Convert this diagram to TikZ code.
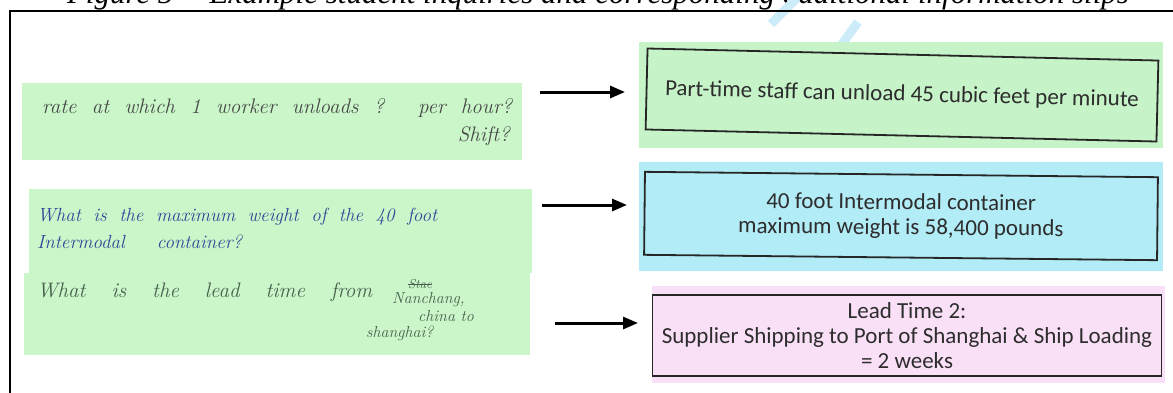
\documentclass[tikz,border=0pt]{standalone}
\usepackage{fontspec}
\newfontfamily\capfont{Liberation Serif}
\newfontfamily\boxfont{Carlito}
\usetikzlibrary{arrows.meta}
\definecolor{slipgreen}{RGB}{202,246,202}
\definecolor{boxgreen}{RGB}{198,243,200}
\definecolor{boxcyan}{RGB}{178,236,247}
\definecolor{boxpink}{RGB}{249,224,246}
\definecolor{inkgrey}{RGB}{70,72,70}
\definecolor{inkblue}{RGB}{45,70,150}
\definecolor{inkgreen}{RGB}{70,95,75}
\definecolor{boxtext}{RGB}{45,45,45}
\definecolor{wmark}{RGB}{205,236,250}
\tikzset{
  slip/.style={fill=slipgreen, draw=none, inner sep=0pt},
  bg/.style={draw=none, inner sep=0pt},
  infobox/.style={draw=black!85, line width=1.8pt, inner sep=0pt, align=center,
    font=\boxfont\fontsize{23}{25}\selectfont, text=boxtext},
  hand/.style={inner sep=0pt, font=\itshape\fontsize{21}{24}\selectfont},
  handsmall/.style={inner sep=0pt, font=\itshape\fontsize{16}{18}\selectfont},
  arr/.style={line width=3pt, -{Triangle[length=15pt,width=12pt]}},
}
\begin{document}
\begin{tikzpicture}[x=1pt,y=-1pt]
\useasboundingbox (0,0) rectangle (1173,392);
% caption (cut at the top)
\node[anchor=base, inner sep=0pt, font=\capfont\itshape\fontsize{31}{36}\selectfont] (cap) at (598,3)
  {Figure 5 -- Example student inquiries and corresponding additional information slips};
% watermark strokes
\draw[wmark, line width=9pt] (797,-2) -- (771,24);
\draw[wmark, line width=9pt] (858,22) -- (842,44);
% frame
\draw[line width=2.6pt] (1200,11) -- (10,11) -- (10,420);
% slips
\node[slip, minimum width=500pt, minimum height=77pt, anchor=north west] (s1) at (22,83) {};
\node[slip, minimum width=503pt, minimum height=84pt, anchor=north west] (s2) at (29,189) {};
\node[slip, minimum width=506pt, minimum height=82pt, anchor=north west] (s3) at (24,273) {};
% handwriting
\node[hand, text=inkgrey, anchor=west] (h1a) at (42,108) {\makebox[470pt][s]{rate at which 1 worker unloads ? per hour?}};
\node[hand, text=inkgrey, anchor=east] (h1b) at (510,136) {Shift?};
\node[hand, text=inkblue, anchor=west, font=\itshape\fontsize{19}{22}\selectfont] (h2a) at (37,217) {\makebox[400pt][s]{What is the maximum weight of the 40 foot}};
\node[hand, text=inkblue, anchor=west, font=\itshape\fontsize{19}{22}\selectfont] (h2b) at (37,242) {\makebox[205pt][s]{Intermodal container?}};
\node[hand, text=inkgreen, anchor=west] (h3a) at (37,292) {\makebox[335pt][s]{What is the lead time from}};
\node[handsmall, text=inkgreen, anchor=west, font=\itshape\fontsize{13}{15}\selectfont] (h3x) at (408,284) {Stae};
\draw[inkgreen, line width=0.8pt] (h3x.west) -- (h3x.east);
\node[handsmall, text=inkgreen, anchor=west] (h3b) at (392,300) {Nanchang,};
\node[handsmall, text=inkgreen, anchor=west] (h3c) at (418,316) {china to};
\node[handsmall, text=inkgreen, anchor=west] (h3d) at (366,333) {shanghai?};
% right backgrounds
\node[bg, fill=boxgreen, minimum width=524pt, minimum height=106pt, anchor=north west] (g1) at (639,42) {};
\node[bg, fill=boxcyan, minimum width=524pt, minimum height=109pt, anchor=north west] (g2) at (639,162) {};
\node[bg, fill=boxpink, minimum width=513pt, minimum height=97pt, anchor=north west] (g3) at (652,286) {};
% info boxes
\node[infobox, minimum width=511pt, minimum height=81pt, rotate=-1.35] (b1) at (902,95)
  {Part-time staff can unload 45 cubic feet per minute};
\node[infobox, minimum width=513pt, minimum height=83pt, rotate=-0.6] (b2) at (901,216)
  {40 foot Intermodal container\\maximum weight is 58,400 pounds};
\node[infobox, minimum width=509pt, minimum height=81pt] (b3) at (907,335.5)
  {Lead Time 2:\\Supplier Shipping to Port of Shanghai \& Ship Loading\\= 2 weeks};
% arrows
\coordinate (a1s) at (540,92);  \coordinate (a1e) at (625,92);
\coordinate (a2s) at (542,205); \coordinate (a2e) at (627,205);
\coordinate (a3s) at (555,323); \coordinate (a3e) at (638,323);
\draw[arr] (a1s) -- (a1e);
\draw[arr] (a2s) -- (a2e);
\draw[arr] (a3s) -- (a3e);
\end{tikzpicture}
\end{document}
